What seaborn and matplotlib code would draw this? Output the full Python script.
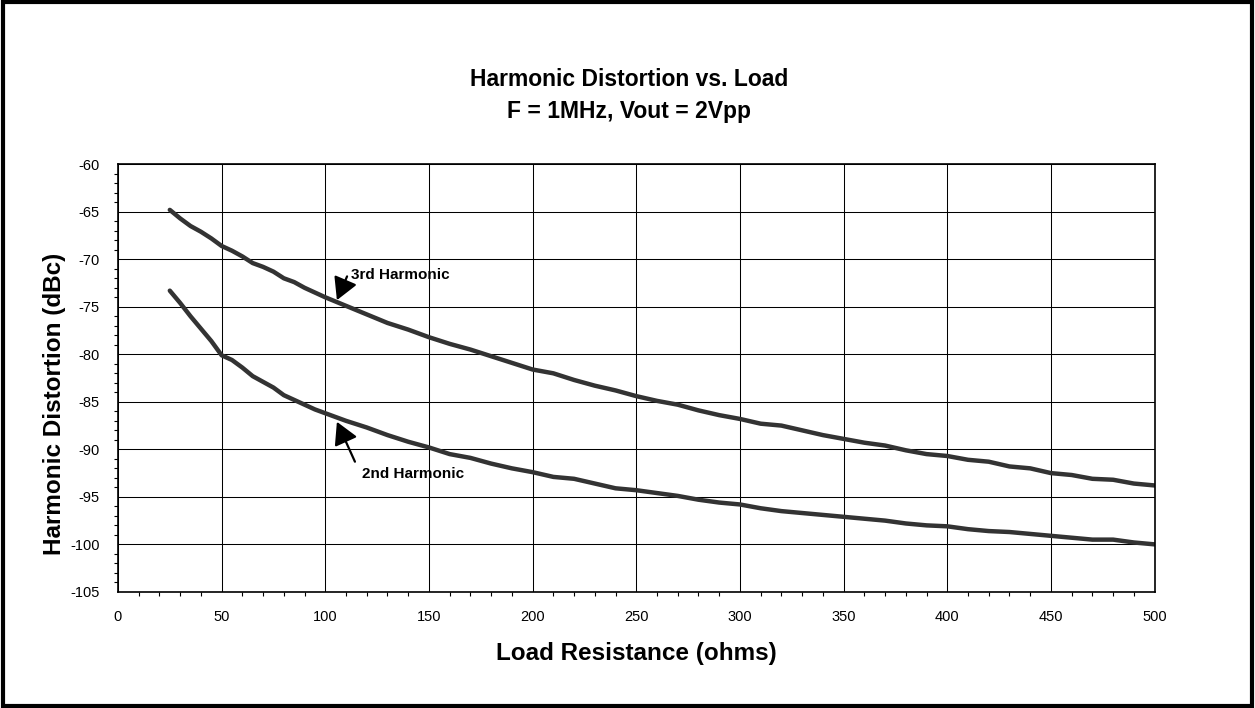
import numpy as np
import pandas as pd
import matplotlib
matplotlib.use("Agg")
import matplotlib.pyplot as plt
from matplotlib.patches import Rectangle
from matplotlib.ticker import MultipleLocator
import seaborn as sns

# load resistance (ohms)
load_ohms = [25, 30, 35, 40, 45, 50, 55, 60, 65, 70, 75, 80, 85, 90, 95,
             100, 110, 120, 130, 140, 150, 160, 170, 180, 190, 200, 210, 220,
             230, 240, 250, 260, 270, 280, 290, 300, 310, 320, 330, 340, 350,
             360, 370, 380, 390, 400, 410, 420, 430, 440, 450, 460, 470, 480,
             490, 500]

# distortion (dBc)
third_harm = [-64.8, -65.7, -66.5, -67.1, -67.8, -68.6, -69.1, -69.7, -70.4,
              -70.8, -71.3, -72.0, -72.4, -73.0, -73.5, -74.0, -74.9, -75.8,
              -76.7, -77.4, -78.2, -78.9, -79.5, -80.2, -80.9, -81.6, -82.0,
              -82.7, -83.3, -83.8, -84.4, -84.9, -85.3, -85.9, -86.4, -86.8,
              -87.3, -87.5, -88.0, -88.5, -88.9, -89.3, -89.6, -90.1, -90.5,
              -90.7, -91.1, -91.3, -91.8, -92.0, -92.5, -92.7, -93.1, -93.2,
              -93.6, -93.8]
second_harm = [-73.3, -74.6, -76.0, -77.3, -78.6, -80.1, -80.6, -81.4, -82.3,
               -82.9, -83.5, -84.3, -84.8, -85.3, -85.8, -86.2, -87.0, -87.7,
               -88.5, -89.2, -89.8, -90.5, -90.9, -91.5, -92.0, -92.4, -92.9,
               -93.1, -93.6, -94.1, -94.3, -94.6, -94.9, -95.3, -95.6, -95.8,
               -96.2, -96.5, -96.7, -96.9, -97.1, -97.3, -97.5, -97.8, -98.0,
               -98.1, -98.4, -98.6, -98.7, -98.9, -99.1, -99.3, -99.5, -99.5,
               -99.8, -100.0]

series_names = ["3rd Harmonic", "2nd Harmonic"]
x_ticks = list(range(0, 501, 50))
y_ticks = list(range(-105, -59, 5))

df = pd.concat([
    pd.DataFrame({"load": load_ohms, "dbc": third_harm, "series": series_names[0]}),
    pd.DataFrame({"load": load_ohms, "dbc": second_harm, "series": series_names[1]}),
])

sns.set_style("white")
plt.rcParams["font.family"] = ["Liberation Sans", "DejaVu Sans"]
plt.rcParams["axes.unicode_minus"] = False
plt.rcParams["text.color"] = "black"
plt.rcParams["axes.labelcolor"] = "black"

fig = plt.figure(figsize=(12.55, 7.08), dpi=100)
ax = fig.add_axes([0.094, 0.164, 0.826, 0.604])

sns.lineplot(data=df, x="load", y="dbc", hue="series", units="series",
             estimator=None, palette=["#333333", "#333333"], linewidth=3.2,
             legend=False, ax=ax)

ax.set_xlim(0, 500)
ax.set_ylim(-105, -60)
ax.set_xticks(x_ticks)
ax.set_yticks(y_ticks)
ax.xaxis.set_minor_locator(MultipleLocator(10))
ax.yaxis.set_minor_locator(MultipleLocator(1))
ax.grid(True, which="major", color="black", linewidth=0.75)
ax.tick_params(which="major", direction="out", length=5, width=1,
               labelsize=10.5, colors="black", pad=8)
ax.tick_params(which="minor", direction="out", length=3, width=0.8,
               colors="black", left=True, bottom=True)
for s in ax.spines.values():
    s.set_color("black")
    s.set_linewidth(1.2)

ax.set_xlabel("Load Resistance (ohms)", fontsize=17.5, fontweight="bold")
ax.xaxis.set_label_coords(0.5, -0.143)
ax.xaxis.label.set_va("center")
ax.set_ylabel("Harmonic Distortion (dBc)", fontsize=17.5, fontweight="bold")
ax.yaxis.set_label_coords(-0.061, 0.44)
ax.yaxis.label.set_va("center")

fig.text(0.501, 0.888, "Harmonic Distortion vs. Load", ha="center",
         va="center", fontsize=16.5, fontweight="bold")
fig.text(0.501, 0.842, "F = 1MHz, Vout = 2Vpp", ha="center",
         va="center", fontsize=16.5, fontweight="bold")

arrow = dict(arrowstyle="-|>,head_length=1.35,head_width=0.75",
             color="black", lw=1.6, shrinkA=0, shrinkB=0, mutation_scale=10)
ax.annotate("", xy=(105.6, -74.3), xytext=(110.5, -71.8), arrowprops=arrow)
ax.text(112.5, -71.7, series_names[0], fontsize=11, fontweight="bold",
        va="center", ha="left")
ax.annotate("", xy=(105.6, -87.1), xytext=(114.3, -91.3), arrowprops=arrow)
ax.text(117.6, -92.6, series_names[1], fontsize=11, fontweight="bold",
        va="center", ha="left")

fig.patches.append(Rectangle((0.002, 0.003), 0.996, 0.994,
                             transform=fig.transFigure, fill=False,
                             edgecolor="black", linewidth=3))

fig.savefig("out.png", dpi=100, facecolor="white")
